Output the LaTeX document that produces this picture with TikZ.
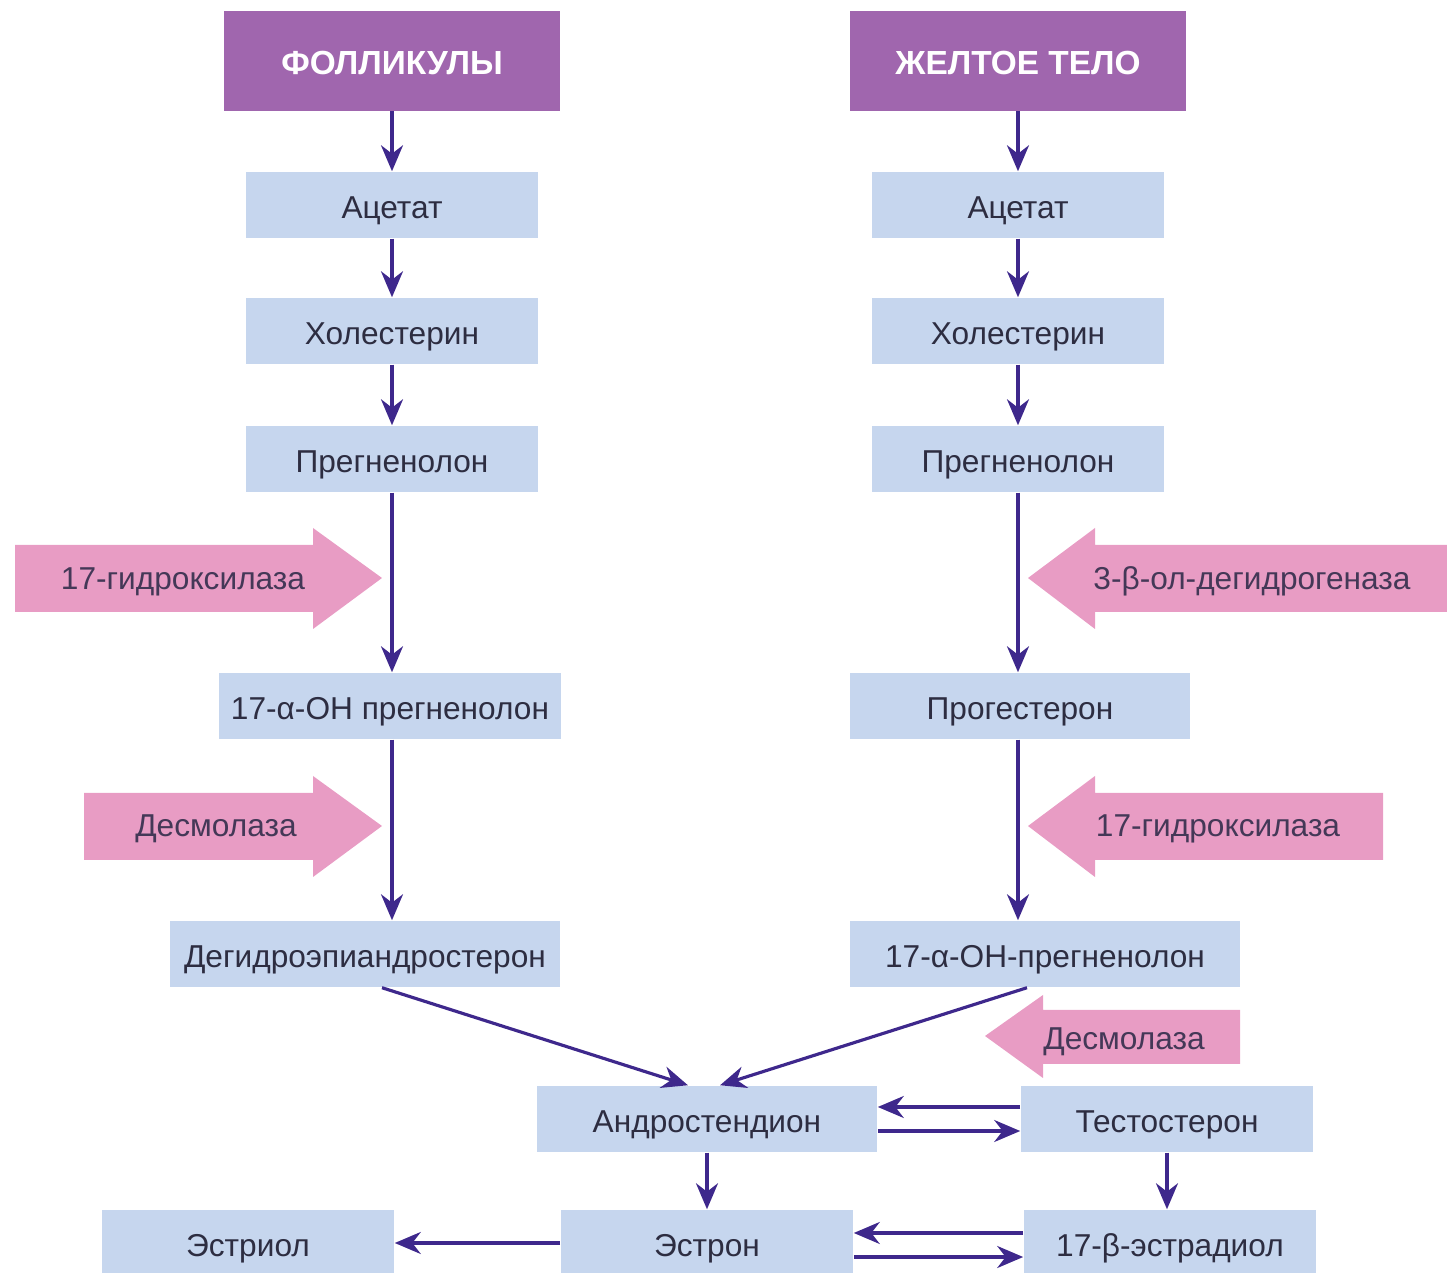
\documentclass[tikz,border=0pt]{standalone}
\usepackage{fontspec}
\setmainfont{Liberation Sans}
\usetikzlibrary{positioning}
\usetikzlibrary{arrows.meta}

\definecolor{headpurple}{RGB}{160,102,174}
\definecolor{boxblue}{RGB}{198,214,238}
\definecolor{enzpink}{RGB}{232,156,196}
\definecolor{flowblue}{RGB}{62,40,140}
\definecolor{txtdark}{RGB}{45,45,65}

\tikzset{
 headbox/.style={fill=headpurple,text=white,inner sep=0pt,text height=1.45ex,text depth=0pt,
  font=\bfseries\fontsize{9.5}{11}\selectfont,minimum width=3.36cm,minimum height=0.99cm},
 stepbox/.style={fill=boxblue,text=txtdark,inner sep=0pt,text height=1.45ex,text depth=0pt,
  font=\fontsize{9}{11}\selectfont,minimum width=2.92cm,minimum height=0.66cm},
 enzarrow/.style={fill=enzpink},
 enzlabel/.style={text=txtdark!80!headpurple,text height=1.45ex,text depth=0pt,
  font=\fontsize{9}{11}\selectfont},
 flow/.style={flowblue,line width=0.9pt,-{Stealth[length=2.6mm,width=2.2mm]}}
}

\begin{document}
\begin{tikzpicture}[x=0.01cm,y=-0.01cm]
 \useasboundingbox (0,0) rectangle (1447,1273);

 % enzyme arrows
 \fill[enzarrow] (15,545)--(313,545)--(313,528)--(382,578)--(313,629)--(313,612)--(15,612)--cycle;
 \fill[enzarrow] (84,793)--(313,793)--(313,776)--(382,826)--(313,877)--(313,860)--(84,860)--cycle;
 \fill[enzarrow] (1447,545)--(1095,545)--(1095,528)--(1028,578)--(1095,629)--(1095,612)--(1447,612)--cycle;
 \fill[enzarrow] (1383,793)--(1095,793)--(1095,776)--(1028,826)--(1095,877)--(1095,860)--(1383,860)--cycle;
 \fill[enzarrow] (1240,1010)--(1043,1010)--(1043,995)--(985,1036)--(1043,1078)--(1043,1064)--(1240,1064)--cycle;
 \node[enzlabel] (e1) at (183,576) {17-гидроксилаза};
 \node[enzlabel] (e2) at (216,823) {Десмолаза};
 \node[enzlabel] (e3) at (1252,576) {3-β-ол-дегидрогеназа};
 \node[enzlabel] (e4) at (1218,823) {17-гидроксилаза};
 \node[enzlabel] (e5) at (1124,1036) {Десмолаза};

 % left column
 \node[headbox] (fol) at (392,61) {ФОЛЛИКУЛЫ};
 \node[stepbox] (ac1) at (392,205) {Ацетат};
 \node[stepbox] (ch1) at (392,331) {Холестерин};
 \node[stepbox] (pr1) at (392,459) {Прегненолон};
 \node[stepbox,minimum width=3.41cm] (oh1) at (390,706) {17-α-ОН прегненолон};
 \node[stepbox,minimum width=3.90cm] (dhea) at (365,954) {Дегидроэпиандростерон};

 % right column
 \node[headbox] (yel) at (1018,61) {ЖЕЛТОЕ ТЕЛО};
 \node[stepbox] (ac2) at (1018,205) {Ацетат};
 \node[stepbox] (ch2) at (1018,331) {Холестерин};
 \node[stepbox] (pr2) at (1018,459) {Прегненолон};
 \node[stepbox,minimum width=3.39cm] (prog) at (1020,706) {Прогестерон};
 \node[stepbox,minimum width=3.89cm] (oh2) at (1045,954) {17-α-ОН-прегненолон};

 % bottom
 \node[stepbox,minimum width=3.40cm] (andro) at (707,1119) {Андростендион};
 \node[stepbox] (testo) at (1167,1119) {Тестостерон};
 \node[stepbox] (estron) at (707,1243) {Эстрон};
 \node[stepbox] (estrad) at (1170,1243) {17-β-эстрадиол};
 \node[stepbox] (estriol) at (248,1243) {Эстриол};

 \draw[flow] (fol) -- (ac1);
 \draw[flow] (ac1) -- (ch1);
 \draw[flow] (ch1) -- (pr1);
 \draw[flow] (pr1) -- (oh1.north -| pr1);
 \draw[flow] (oh1.south -| pr1) -- (dhea.north -| pr1);
 \draw[flow] (yel) -- (ac2);
 \draw[flow] (ac2) -- (ch2);
 \draw[flow] (ch2) -- (pr2);
 \draw[flow] (pr2) -- (prog.north -| pr2);
 \draw[flow] (prog.south -| pr2) -- (oh2.north -| pr2);
 \draw[flow] ([xshift=0.17cm]dhea.south) -- ([xshift=-0.19cm]andro.north);
 \draw[flow] ([xshift=-0.18cm]oh2.south) -- ([xshift=0.13cm]andro.north);
 \draw[flow] ([yshift=0.12cm]testo.west) -- ([yshift=0.12cm]andro.east);
 \draw[flow] ([yshift=-0.12cm]andro.east) -- ([yshift=-0.12cm]testo.west);
 \draw[flow] (andro) -- (estron);
 \draw[flow] (testo) -- (testo |- estrad.north);
 \draw[flow] ([yshift=0.10cm]estrad.west) -- ([yshift=0.10cm]estron.east);
 \draw[flow] ([yshift=-0.14cm]estron.east) -- ([yshift=-0.14cm]estrad.west);
 \draw[flow] (estron) -- (estriol);
\end{tikzpicture}
\end{document}
